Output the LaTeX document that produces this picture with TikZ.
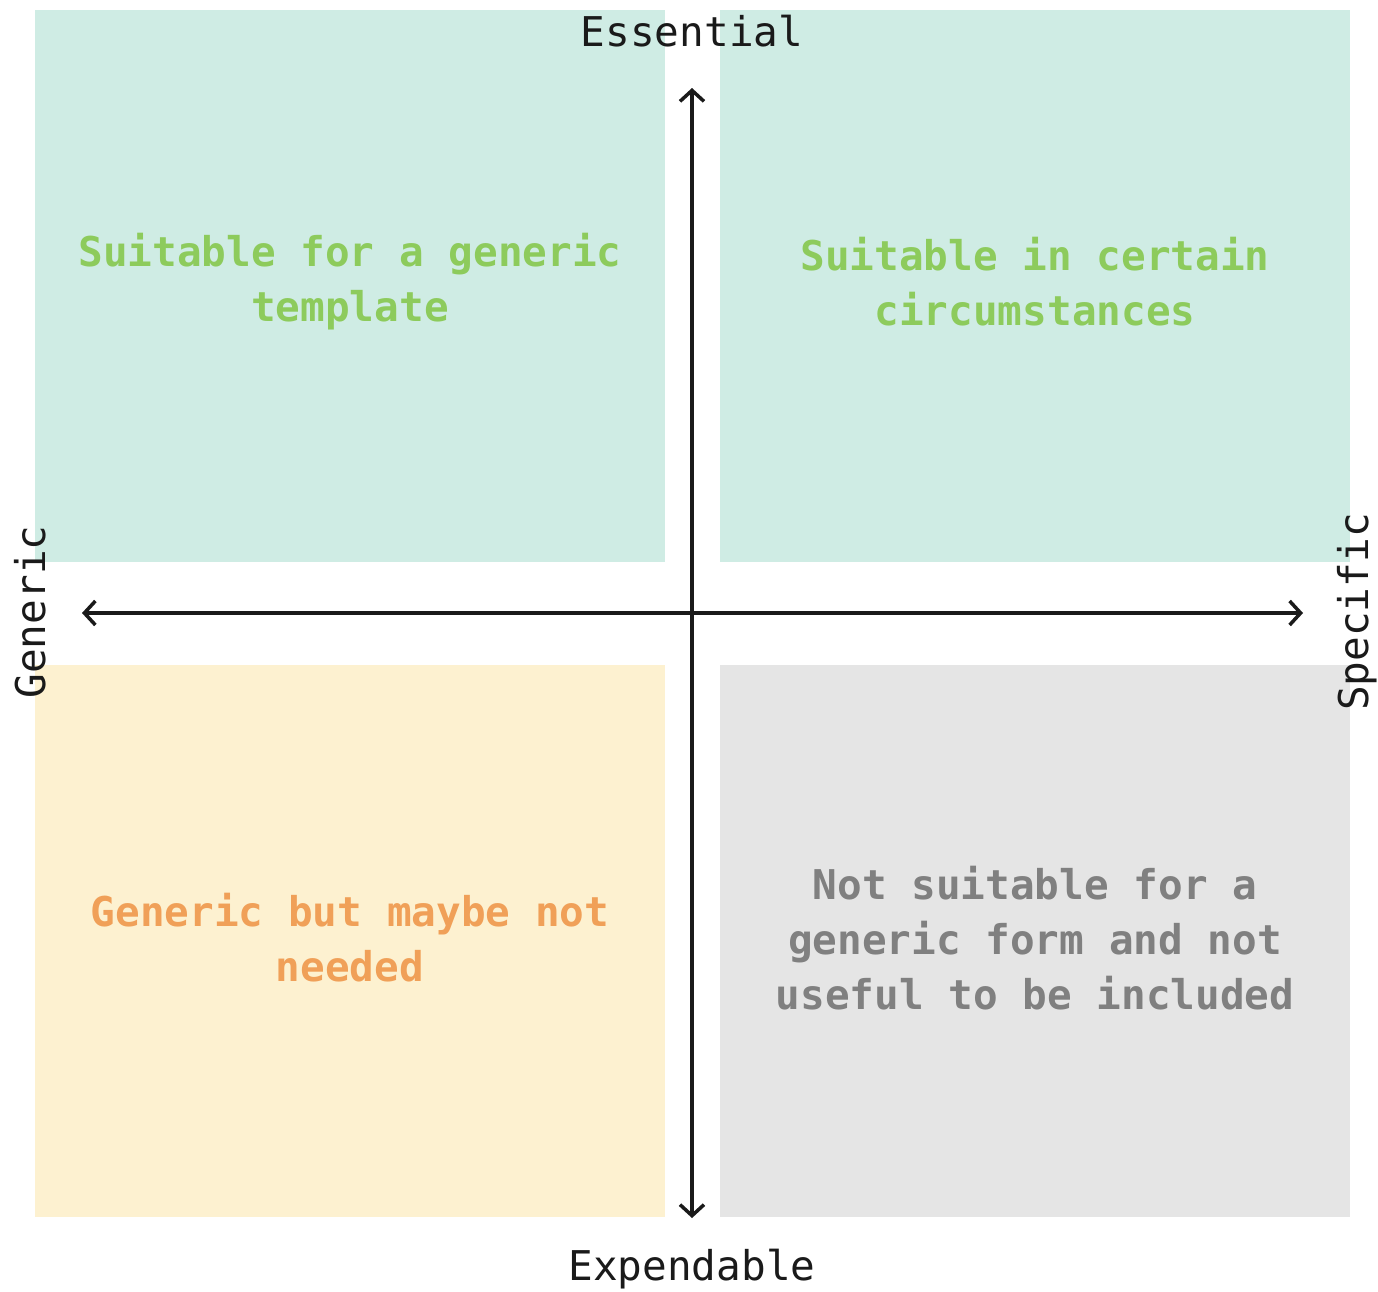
\documentclass[tikz,border=0pt]{standalone}
\usepackage{fontspec}
\setmonofont{DejaVu Sans Mono}
\usetikzlibrary{arrows.meta}
\definecolor{teal}{HTML}{CFECE4}
\definecolor{yel}{HTML}{FDF1D0}
\definecolor{gry}{HTML}{E5E5E5}
\definecolor{greentxt}{HTML}{8DCB5C}
\definecolor{orangetxt}{HTML}{F0A058}
\definecolor{graytxt}{HTML}{808080}
\definecolor{axis}{HTML}{1A1A1A}
\tikzset{
  qtext/.style={font=\ttfamily\fontsize{41}{55}\selectfont\bfseries, align=center},
  alabel/.style={font=\ttfamily\fontsize{41}{50}\selectfont, text=axis, inner sep=0pt},
  axisline/.style={draw=axis, line width=3.5pt, {Straight Barb[length=11pt,width=24pt,line width=3.5pt]}-{Straight Barb[length=11pt,width=24pt,line width=3.5pt]}}
}
\begin{document}
\begin{tikzpicture}[x=1pt,y=-1pt]
\useasboundingbox[fill=white] (0,0) rectangle (1378,1291);
\fill[teal] (35,10) rectangle (665,562);
\fill[teal] (720,10) rectangle (1350,562);
\fill[yel] (35,665) rectangle (665,1217);
\fill[gry] (720,665) rectangle (1350,1217);
\node[qtext, text=greentxt] (tl) at (350,282) {Suitable for a generic\\template};
\node[qtext, text=greentxt] (tr) at (1035,282) {Suitable in certain\\circumstances};
\node[qtext, text=orangetxt] (bl) at (350,938) {Generic but maybe not\\needed};
\node[qtext, text=graytxt] (br) at (1035,938) {Not suitable for a\\generic form and not\\useful to be included};
\coordinate (top) at (692,88);
\coordinate (bot) at (692,1218);
\coordinate (left) at (82,613);
\coordinate (right) at (1303,613);
\draw[axisline] (bot) -- (top);
\draw[axisline] (left) -- (right);
\node[alabel, anchor=base] (ess) at (692,46) {Essential};
\node[alabel, anchor=base] (exp) at (692,1280) {Expendable};
\node[alabel, rotate=90, anchor=base] (gen) at (45,612) {Generic};
\node[alabel, rotate=90, anchor=base] (spec) at (1368,612) {Specific};
\end{tikzpicture}
\end{document}
